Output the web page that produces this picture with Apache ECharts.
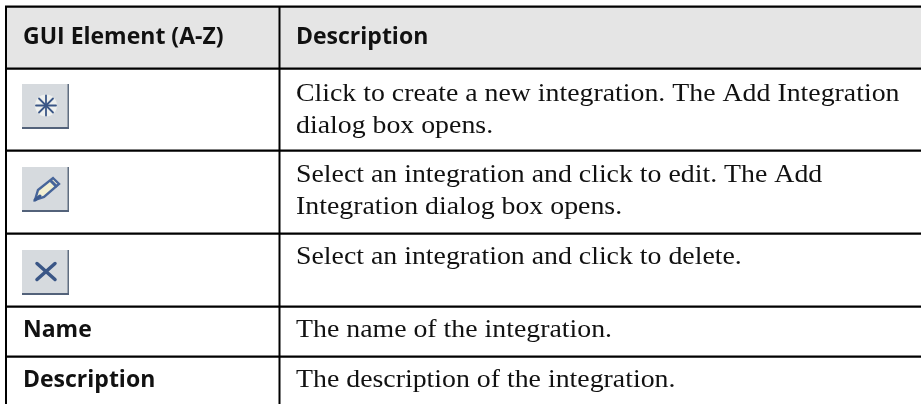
<!DOCTYPE html>
<html>
<head>
<meta charset="utf-8">
<style>
html, body { margin: 0; padding: 0; background: #fff; }
#main { width: 921px; height: 404px; }
</style>
<script src="https://cdn.jsdelivr.net/npm/echarts@6/dist/echarts.min.js"></script>
</head>
<body>
<div id="main"></div>
<script>
let headers = ['GUI Element (A-Z)', 'Description'];
let rowNames = ['', '', '', 'Name', 'Description'];
let rowIcons = ['new', 'edit', 'delete', '', ''];
let rowText = [
	['Click to create a new integration. The Add Integration', 'dialog box opens.'],
	['Select an integration and click to edit. The Add', 'Integration dialog box opens.'],
	['Select an integration and click to delete.'],
	['The name of the integration.'],
	['The description of the integration.']
];

let lineColor = '#000';
let textColor = '#111';
let sansFont = '"Open Sans", "Noto Sans", sans-serif';
let serifFont = '"Liberation Serif", serif';

let rowTops = [68.7, 150.7, 233.7, 306.7, 356.7];
let firstBase = [102, 183, 265, 338, 388];
let iconTops = [84, 167, 250];
let lineGap = 32;

function hLine(y) {
	return { type: 'rect', shape: { x: 5, y: y - 1.1, width: 916, height: 2.2 }, style: { fill: lineColor } };
}

function vLine(x) {
	return { type: 'rect', shape: { x: x - 1, y: 6, width: 2, height: 398 }, style: { fill: lineColor } };
}

// text is placed by its middle, baseline offset is worked out from the font size
function label(text, x, baseY, bold) {
	let size = bold ? 23 : 25.3;
	return {
		type: 'text',
		x: x,
		y: baseY - size * 0.31,
		scaleX: bold ? 1 : 1.1,
		style: {
			text: text,
			fill: textColor,
			font: bold ? 'bold ' + size + 'px ' + sansFont : size + 'px ' + serifFont,
			align: 'left',
			verticalAlign: 'middle'
		}
	};
}

function stroke(points, color, width) {
	return {
		type: 'polyline',
		shape: { points: points },
		style: { stroke: color, lineWidth: width, fill: null, lineCap: 'round' }
	};
}

function iconShapes(kind, x, y) {
	let cx = x + 24;
	let cy = y + 21.5;
	let blue = '#3a5686';
	let items = [
		{ type: 'rect', shape: { x: x, y: y, width: 47, height: 45 }, style: { fill: '#d6dade' } },
		{ type: 'rect', shape: { x: x + 45.5, y: y, width: 1.5, height: 45 }, style: { fill: '#5f6d80' } },
		{ type: 'rect', shape: { x: x, y: y + 43, width: 47, height: 2 }, style: { fill: '#53627a' } }
	];
	if (kind === 'new') {
		items.push({ type: 'circle', shape: { cx: cx, cy: cy, r: 11 }, style: { fill: '#eef0ee' } });
		items.push(stroke([[cx, cy - 10], [cx, cy + 10]], blue, 1.8));
		items.push(stroke([[cx - 10, cy], [cx + 10, cy]], blue, 1.8));
		items.push(stroke([[cx - 7, cy - 7], [cx + 7, cy + 7]], blue, 1.8));
		items.push(stroke([[cx - 7, cy + 7], [cx + 7, cy - 7]], blue, 1.8));
	} else if (kind === 'edit') {
		items.push({
			type: 'polygon',
			shape: { points: [[x + 13, y + 33], [x + 16, y + 23], [x + 31, y + 11], [x + 37, y + 17], [x + 22, y + 30]] },
			style: { fill: '#f2efd2', stroke: '#47659a', lineWidth: 2.4 }
		});
		items.push(stroke([[x + 29, y + 14], [x + 34, y + 19]], '#47659a', 3));
		items.push(stroke([[x + 13, y + 33], [x + 18, y + 29]], '#3c5a8f', 3));
	} else {
		items.push(stroke([[cx - 9, cy - 8], [cx + 9, cy + 8]], blue, 3.5));
		items.push(stroke([[cx + 9, cy - 8], [cx - 9, cy + 8]], blue, 3.5));
	}
	return items;
}

let elements = [
	{ type: 'rect', shape: { x: 5, y: 6, width: 916, height: 63 }, style: { fill: '#e5e5e5' } },
	hLine(6.7),
	vLine(6),
	vLine(279.5)
];
for (let i = 0; i < rowTops.length; i++) {
	elements.push(hLine(rowTops[i]));
}
elements.push(label(headers[0], 23, 45, true));
elements.push(label(headers[1], 296, 45, true));
for (let i = 0; i < rowText.length; i++) {
	if (rowIcons[i]) {
		elements = elements.concat(iconShapes(rowIcons[i], 22, iconTops[i]));
	}
	if (rowNames[i]) {
		elements.push(label(rowNames[i], 23, firstBase[i], true));
	}
	for (let j = 0; j < rowText[i].length; j++) {
		elements.push(label(rowText[i][j], 296, firstBase[i] + j * lineGap, false));
	}
}

let myChart = echarts.init(document.getElementById('main'));
myChart.setOption({
	animation: false,
	backgroundColor: '#fff',
	graphic: { elements: elements }
});
</script>
</body>
</html>
